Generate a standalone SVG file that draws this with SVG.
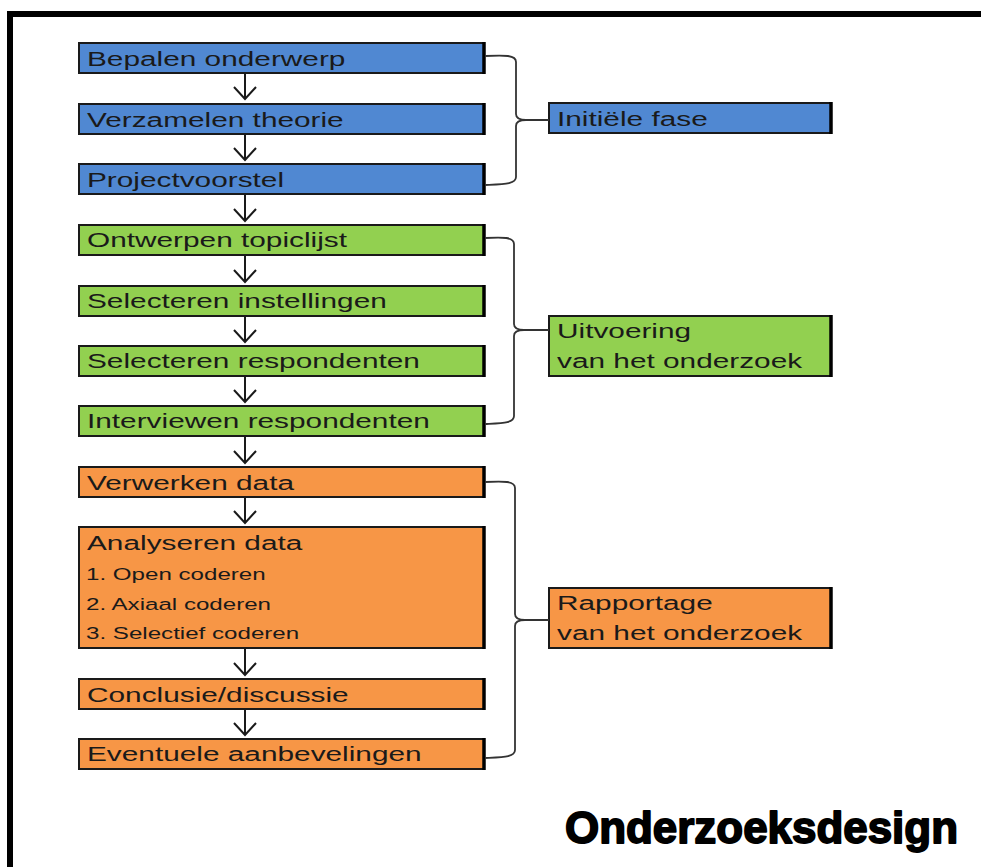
<svg xmlns="http://www.w3.org/2000/svg" width="981" height="867" viewBox="0 0 981 867">
<style>
.t{font-family:"Liberation Sans",Arial,sans-serif;font-size:21px;fill:#1a1a1a}
.s{font-family:"Liberation Sans",Arial,sans-serif;font-size:17px;fill:#1a1a1a}
.box{stroke:#1a1a1a;stroke-width:2}
.rb{stroke:#000;stroke-width:3.5}
.blue{fill:#5088D2}
.green{fill:#92D050}
.orange{fill:#F79646}
.arrow{stroke:#1a1a1a;stroke-width:2;fill:none}
.brace{stroke:#333;stroke-width:1.8;fill:none}
.title{font-family:"Liberation Sans",Arial,sans-serif;font-size:44px;font-weight:bold;fill:#000;stroke:#000;stroke-width:1.8;stroke-linejoin:round}
</style>
<rect x="0" y="0" width="981" height="867" fill="#fff"/>
<g id="frame">
<rect x="7" y="11" width="974" height="6" fill="#000"/>
<rect x="7" y="11" width="6" height="856" fill="#000"/>
</g>
<g id="n1"><rect class="box blue" x="79" y="43" width="405" height="30"/><line class="rb" x1="484" y1="42" x2="484" y2="74"/><text class="t" transform="translate(87 65.5) scale(1.42 1)">Bepalen onderwerp</text></g>
<g id="n2"><rect class="box blue" x="79" y="104" width="405" height="30"/><line class="rb" x1="484" y1="103" x2="484" y2="135"/><text class="t" transform="translate(87 126.5) scale(1.42 1)">Verzamelen theorie</text></g>
<g id="n3"><rect class="box blue" x="79" y="164" width="405" height="30"/><line class="rb" x1="484" y1="163" x2="484" y2="195"/><text class="t" transform="translate(87 186.5) scale(1.42 1)">Projectvoorstel</text></g>
<g id="n4"><rect class="box green" x="79" y="225" width="405" height="30"/><line class="rb" x1="484" y1="224" x2="484" y2="256"/><text class="t" transform="translate(87 247) scale(1.42 1)">Ontwerpen topiclijst</text></g>
<g id="n5"><rect class="box green" x="79" y="286" width="405" height="30"/><line class="rb" x1="484" y1="285" x2="484" y2="317"/><text class="t" transform="translate(87 307.5) scale(1.42 1)">Selecteren instellingen</text></g>
<g id="n6"><rect class="box green" x="79" y="346" width="405" height="30"/><line class="rb" x1="484" y1="345" x2="484" y2="377"/><text class="t" transform="translate(87 368) scale(1.42 1)">Selecteren respondenten</text></g>
<g id="n7"><rect class="box green" x="79" y="406" width="405" height="30"/><line class="rb" x1="484" y1="405" x2="484" y2="437"/><text class="t" transform="translate(87 428) scale(1.42 1)">Interviewen respondenten</text></g>
<g id="n8"><rect class="box orange" x="79" y="467" width="405" height="30"/><line class="rb" x1="484" y1="466" x2="484" y2="498"/><text class="t" transform="translate(87 490) scale(1.42 1)">Verwerken data</text></g>
<g id="n9"><rect class="box orange" x="79" y="527" width="405" height="121"/><line class="rb" x1="484" y1="526" x2="484" y2="649"/>
<text class="t" transform="translate(87 550) scale(1.42 1)">Analyseren data</text>
<text class="s" transform="translate(86 580) scale(1.42 1)">1. Open coderen</text>
<text class="s" transform="translate(86 610) scale(1.42 1)">2. Axiaal coderen</text>
<text class="s" transform="translate(86 639) scale(1.42 1)">3. Selectief coderen</text></g>
<g id="n10"><rect class="box orange" x="79" y="679" width="405" height="30"/><line class="rb" x1="484" y1="678" x2="484" y2="710"/><text class="t" transform="translate(87 702) scale(1.42 1)">Conclusie/discussie</text></g>
<g id="n11"><rect class="box orange" x="79" y="739" width="405" height="30"/><line class="rb" x1="484" y1="738" x2="484" y2="770"/><text class="t" transform="translate(87 761) scale(1.42 1)">Eventuele aanbevelingen</text></g>
<g id="p1"><rect class="box blue" x="549" y="103" width="282" height="30"/><line class="rb" x1="831" y1="102" x2="831" y2="134"/><text class="t" transform="translate(557 126) scale(1.42 1)">Initiële fase</text></g>
<g id="p2"><rect class="box green" x="549" y="316" width="282" height="60"/><line class="rb" x1="831" y1="315" x2="831" y2="377"/><text class="t" transform="translate(557 338) scale(1.42 1)">Uitvoering</text><text class="t" transform="translate(557 368) scale(1.42 1)">van het onderzoek</text></g>
<g id="p3"><rect class="box orange" x="549" y="588" width="282" height="60"/><line class="rb" x1="831" y1="587" x2="831" y2="649"/><text class="t" transform="translate(557 610) scale(1.42 1)">Rapportage</text><text class="t" transform="translate(557 640) scale(1.42 1)">van het onderzoek</text></g>
<g id="connectors">
<path class="arrow" d="M245 74V99M234 87L245 99L256 87"/>
<path class="arrow" d="M245 135V160M234 148L245 160L256 148"/>
<path class="arrow" d="M245 195V221M234 209L245 221L256 209"/>
<path class="arrow" d="M245 256V282M234 270L245 282L256 270"/>
<path class="arrow" d="M245 317V342M234 330L245 342L256 330"/>
<path class="arrow" d="M245 377V402M234 390L245 402L256 390"/>
<path class="arrow" d="M245 437V463M234 451L245 463L256 451"/>
<path class="arrow" d="M245 498V523M234 511L245 523L256 511"/>
<path class="arrow" d="M245 649V675M234 663L245 675L256 663"/>
<path class="arrow" d="M245 710V735M234 723L245 735L256 723"/>
<path class="brace" d="M485 56C505 55 516 55 516 62L516 114C516 118 519 120 526 120L549 120M526 120C519 120 516 122 516 126L516 177C516 184 505 184 485 185"/>
<path class="brace" d="M485 238C503 237 514 237 514 244L514 324C514 328 517 330 524 330L549 330M524 330C517 330 514 332 514 336L514 416C514 423 503 423 485 424"/>
<path class="brace" d="M485 482C504 481 515 481 515 488L515 614C515 618 518 620 525 620L549 620M525 620C518 620 515 622 515 626L515 750C515 757 504 757 485 758"/>
</g>
<text class="title" x="565" y="843" textLength="393" lengthAdjust="spacingAndGlyphs">Onderzoeksdesign</text>
</svg>
